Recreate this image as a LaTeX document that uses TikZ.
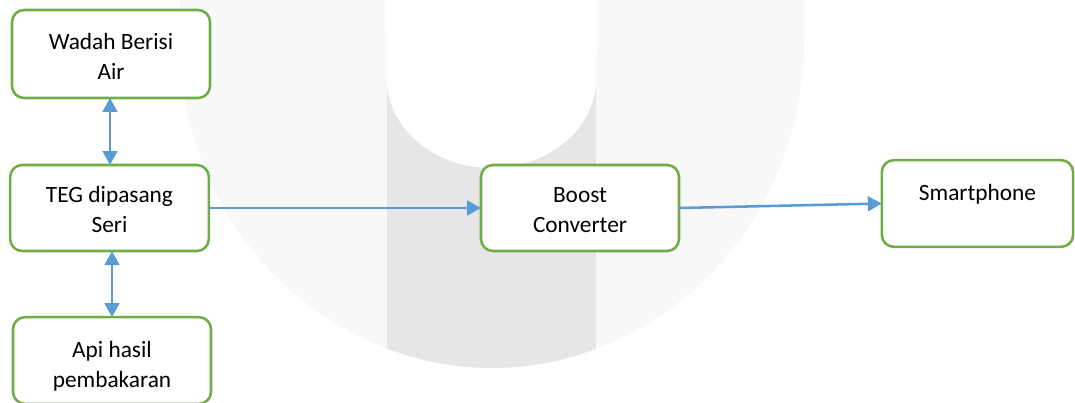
\documentclass[tikz,border=0pt]{standalone}
\usepackage{fontspec}
\setmainfont{Carlito}
\usetikzlibrary{arrows.meta,calc}
\definecolor{boxgreen}{HTML}{70AD47}
\definecolor{arrowblue}{HTML}{5B9BD5}
\definecolor{markouter}{HTML}{F8F8F8}
\definecolor{markband}{HTML}{E6E6E8}
\tikzset{
  blockbox/.style={draw=boxgreen, line width=1.9pt, rounded corners=9pt,
    fill=white, inner sep=0pt, outer sep=0pt},
  blocktext/.style={align=center, inner sep=0pt, anchor=base,
    font=\fontsize{17.5}{22.5}\selectfont},
  flow/.style={draw=arrowblue, line width=1.9pt,
    -{Triangle[length=10.5pt,width=11pt]}},
  biflow/.style={draw=arrowblue, line width=1.9pt,
    {Triangle[length=10.5pt,width=11pt]}-{Triangle[length=10.5pt,width=11pt]}}
}
\begin{document}
\begin{tikzpicture}[x=0.75pt,y=-0.75pt]
\useasboundingbox (0,0) rectangle (1075,403);
\fill[white] (0,0) rectangle (1075,403);

% background emblem: U shape with a darker band and a white hollow
\def\outerU{(180,-5) -- (180,40) .. controls (180,230) and (330,368) .. (492,368)
  .. controls (654,368) and (804,230) .. (804,40) -- (804,-5) -- cycle}
\fill[markouter] \outerU;
\begin{scope}
  \clip \outerU;
  \fill[markband] (387,-5) rectangle (596,400);
\end{scope}
\fill[white] (385,-5) -- (387,85) .. controls (392,135) and (440,168) .. (491.5,168)
  .. controls (543,168) and (591,135) .. (596,85) -- (598,-5) -- cycle;

% blocks
\node[blockbox, minimum width=148.5pt, minimum height=66pt] (wadah) at (111,54) {};
\node[blockbox, minimum width=149pt, minimum height=64.5pt] (teg) at (109.5,208) {};
\node[blockbox, minimum width=148.5pt, minimum height=65pt] (api) at (112,360.5) {};
\node[blockbox, minimum width=148.5pt, minimum height=64.5pt] (boost) at (580,208) {};
\node[blockbox, minimum width=143.5pt, minimum height=65pt] (smart) at (977.5,203.5) {};

% labels; the base anchor sits on the last line of each label
\node[blocktext] (wadahtxt) at ($(wadah.north)+(0,70)$) {Wadah Berisi\\Air};
\node[blocktext] (tegtxt) at ($(teg.north)+(0,67)$) {TEG dipasang\\Seri};
\node[blocktext] (apitxt) at ($(api.north)+(0,70)$) {Api hasil\\pembakaran};
\node[blocktext] (boosttxt) at ($(boost.north)+(0,67)$) {Boost\\Converter};
\node[blocktext] (smarttxt) at ($(smart.north)+(0,40)$) {Smartphone};

% connectors
\draw[biflow] (wadah.south -| 110,0) -- (teg.north -| 110,0);
\draw[biflow] (teg.south -| 112,0) -- (api.north -| 112,0);
\draw[flow] (teg.east) -- (boost.west);
\draw[flow] (boost.east) -- (smart.west);
\end{tikzpicture}
\end{document}
